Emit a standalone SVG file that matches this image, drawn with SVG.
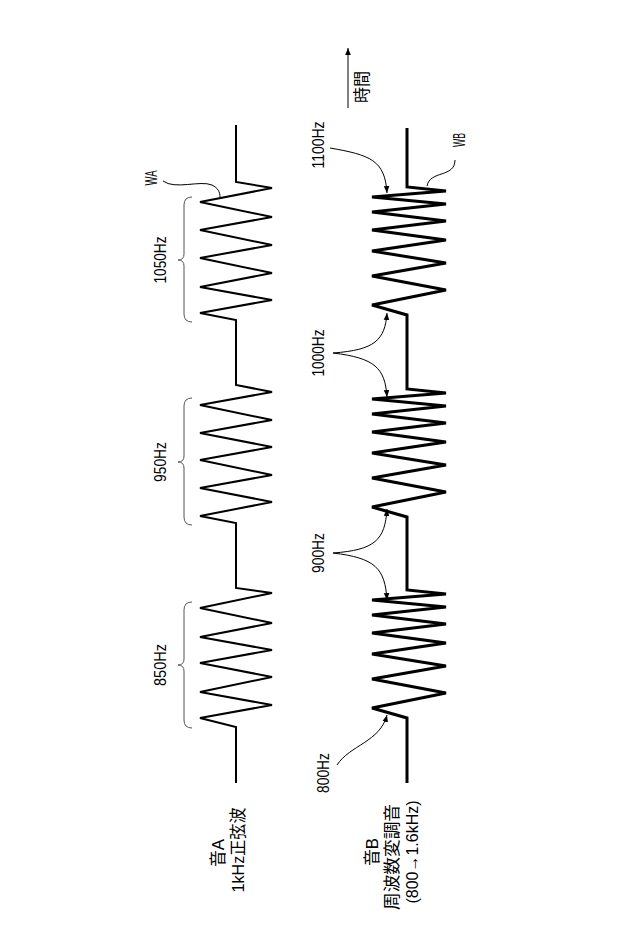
<svg xmlns="http://www.w3.org/2000/svg" width="640" height="949" viewBox="0 0 640 949">
<style>
text{font-family:"Liberation Sans","Noto Sans CJK JP",sans-serif;font-size:17px;fill:#000}
.wa{fill:none;stroke:#000;stroke-width:2;stroke-linejoin:miter}
.wb{fill:none;stroke:#000;stroke-width:3;stroke-linejoin:miter}
.thin{fill:none;stroke:#000;stroke-width:1}
.br{fill:none;stroke:#555;stroke-width:1}
</style>
<defs><marker id="ah" viewBox="0 0 10 10" refX="10" refY="5" markerWidth="7" markerHeight="7" orient="auto-start-reverse" markerUnits="userSpaceOnUse"><path d="M0,1 L10,5 L0,9 Z" fill="#000"/></marker></defs>
<rect width="640" height="949" fill="#fff"/>
<g id="waveA">
<polyline class="wa" points="236,783 236,727 200,718 272,705 200,692 272,677 200,663 272,650 200,637 272,623 200,608 272,593 236,588 236,523 200,516 272,502 200,488 272,475 200,460 272,447 200,433 272,420 200,405 272,392 236,385 236,320 200,313 272,300 200,287 272,273 200,258 272,245 200,230 272,217 200,202 272,188 236,182 236,125"/>
</g>
<g id="waveB">
<polyline class="wb" points="407,783 407,718 372,708 446,693 372,679 446,666 372,654 446,643 372,633 446,624 372,615 446,607 372,600 446,594 407,590 407,517 372,507 446,492 372,478 446,465 372,453 446,442 372,432 446,423 372,414 446,406 372,399 446,393 407,389 407,315 372,305 446,290 372,276 446,263 372,251 446,240 372,230 446,221 372,212 446,204 372,197 446,191 407,187 407,128"/>
</g>
<g id="braces">
<path class="br" d="M192,197 Q184,197 184,205 L184,254 Q184,260 178,260 Q184,260 184,266 L184,314 Q184,322 192,322"/>
<path class="br" d="M192,398 Q184,398 184,406 L184,456 Q184,462 178,462 Q184,462 184,468 L184,517 Q184,525 192,525"/>
<path class="br" d="M192,602 Q184,602 184,610 L184,659 Q184,665 178,665 Q184,665 184,671 L184,720 Q184,728 192,728"/>
</g>
<g id="connectors">
<path class="thin" d="M163,181 C175,190 200,180 212,185 C218,188 220,192 220,197"/>
<path class="thin" d="M455,160 C455,178 430,170 427,186"/>
<path class="thin" marker-end="url(#ah)" d="M330,148 C370,155 385,160 387,193"/>
<path class="thin" marker-end="url(#ah)" d="M333,353 C375,350 385,340 387,313"/>
<path class="thin" marker-end="url(#ah)" d="M333,353 C375,358 385,368 387,397"/>
<path class="thin" marker-end="url(#ah)" d="M333,553 C375,550 385,540 387,509"/>
<path class="thin" marker-end="url(#ah)" d="M333,553 C375,558 385,568 387,600"/>
<path class="thin" marker-end="url(#ah)" d="M337,765 C350,745 380,742 387,715"/>
<line class="thin" x1="348" y1="108" x2="348" y2="48" stroke-width="1.5" marker-end="url(#ah)"/>
</g>
<g id="labels">
<text transform="translate(160,260) rotate(-90)" text-anchor="middle" dominant-baseline="central" textLength="47" lengthAdjust="spacingAndGlyphs">1050Hz</text>
<text transform="translate(160,462) rotate(-90)" text-anchor="middle" dominant-baseline="central" textLength="40" lengthAdjust="spacingAndGlyphs">950Hz</text>
<text transform="translate(160,665) rotate(-90)" text-anchor="middle" dominant-baseline="central" textLength="42" lengthAdjust="spacingAndGlyphs">850Hz</text>
<text transform="translate(151,178) rotate(-90)" text-anchor="middle" dominant-baseline="central" textLength="15" lengthAdjust="spacingAndGlyphs">WA</text>
<text transform="translate(459,140) rotate(-90)" text-anchor="middle" dominant-baseline="central" textLength="14" lengthAdjust="spacingAndGlyphs">WB</text>
<text transform="translate(318,145) rotate(-90)" text-anchor="middle" dominant-baseline="central" textLength="47" lengthAdjust="spacingAndGlyphs">1100Hz</text>
<text transform="translate(318,353) rotate(-90)" text-anchor="middle" dominant-baseline="central" textLength="47" lengthAdjust="spacingAndGlyphs">1000Hz</text>
<text transform="translate(318,553) rotate(-90)" text-anchor="middle" dominant-baseline="central" textLength="40" lengthAdjust="spacingAndGlyphs">900Hz</text>
<text transform="translate(323,773) rotate(-90)" text-anchor="middle" dominant-baseline="central" textLength="40" lengthAdjust="spacingAndGlyphs">800Hz</text>
<text transform="translate(362,87) rotate(-90)" text-anchor="middle" dominant-baseline="central" textLength="32" lengthAdjust="spacingAndGlyphs">時間</text>
<text transform="translate(218,853) rotate(-90)" text-anchor="middle" dominant-baseline="central" textLength="28" lengthAdjust="spacingAndGlyphs">音A</text>
<text transform="translate(238,850) rotate(-90)" text-anchor="middle" dominant-baseline="central" textLength="85" lengthAdjust="spacingAndGlyphs">1kHz正弦波</text>
<text transform="translate(372,852) rotate(-90)" text-anchor="middle" dominant-baseline="central" textLength="28" lengthAdjust="spacingAndGlyphs">音B</text>
<text transform="translate(392,857) rotate(-90)" text-anchor="middle" dominant-baseline="central" textLength="106" lengthAdjust="spacingAndGlyphs">周波数変調音</text>
<text transform="translate(412,852) rotate(-90)" text-anchor="middle" dominant-baseline="central" textLength="103" lengthAdjust="spacingAndGlyphs">(800→1.6kHz)</text>
</g>
</svg>
